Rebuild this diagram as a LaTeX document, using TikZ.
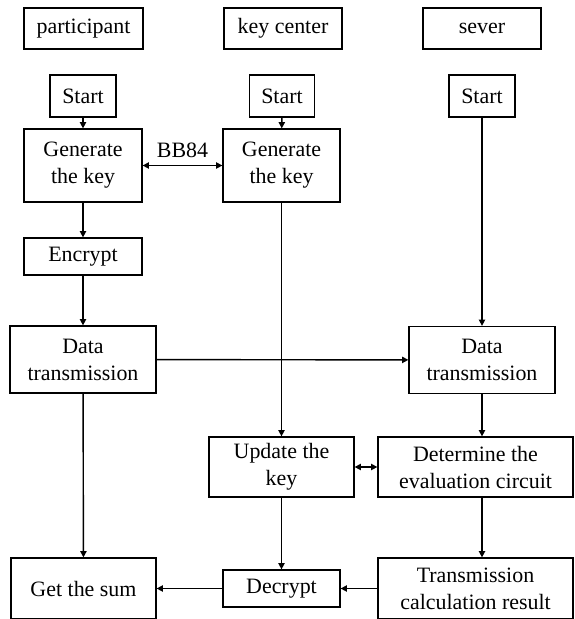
\documentclass[tikz,border=0pt]{standalone}
\usepackage{fontspec}
\setmainfont{Liberation Serif}
\usepackage{tikz}
\usetikzlibrary{arrows.meta}
\usetikzlibrary{calc}

\begin{document}
\begin{tikzpicture}[x=0.025cm,y=-0.025cm,
                    box/.style={draw,line width=0.9pt,align=center,inner sep=0pt,
                                font=\fontsize{15.6}{19.2}\selectfont},
                    flow/.style={line width=1pt,-{Triangle[length=4.5pt,width=4.5pt]}}]
                    \useasboundingbox (0,0) rectangle (574,619);
                    % column heads
                    \node[box,name=hP,minimum width=119*0.025cm,minimum height=41*0.025cm] at (83.5,28.5) {participant};
                    \node[box,name=hK,minimum width=118*0.025cm,minimum height=41*0.025cm] at (283,28.5) {key center};
                    \node[box,name=hS,minimum width=118*0.025cm,minimum height=41*0.025cm] at (482,28.5) {sever};
                    % participant
                    \node[box,name=sP,minimum width=66*0.025cm,minimum height=42*0.025cm] at (83,96) {Start};
                    \node[box,name=gP,minimum width=118*0.025cm,minimum height=73*0.025cm] at (83,165.5) {Generate\\the key};
                    \node[box,name=eP,minimum width=118*0.025cm,minimum height=37*0.025cm] at (83,256.5) {Encrypt};
                    \node[box,name=dP,minimum width=146*0.025cm,minimum height=67*0.025cm] at (83,359.5) {Data\\transmission};
                    \node[box,name=sum,minimum width=145*0.025cm,minimum height=61*0.025cm] at (83.5,588.5) {Get the sum};
                    % key center
                    \node[box,name=sK,minimum width=65*0.025cm,minimum height=42*0.025cm] at (282,96) {Start};
                    \node[box,name=gK,minimum width=117*0.025cm,minimum height=73*0.025cm] at (281.5,165.5) {Generate\\the key};
                    \node[box,name=uK,minimum width=145*0.025cm,minimum height=60*0.025cm] at (281.5,467) {Update the\\key};
                    \node[box,name=dK,minimum width=117*0.025cm,minimum height=37*0.025cm] at (281.5,588.5) {Decrypt};
                    % sever
                    \node[box,name=sS,minimum width=66*0.025cm,minimum height=42*0.025cm] at (482,96) {Start};
                    \node[box,name=dS,minimum width=146*0.025cm,minimum height=67*0.025cm] at (482,360) {Data\\transmission};
                    \node[box,name=cS,minimum width=195*0.025cm,minimum height=60*0.025cm] at (475.5,467) {Determine the\\evaluation circuit};
                    \node[box,name=tS,minimum width=195*0.025cm,minimum height=61*0.025cm] at (475.5,588.5) {Transmission\\calculation result};
                    % connectors
                    \draw[flow] (sP) -- (gP);
                    \draw[flow] (gP) -- (eP);
                    \draw[flow] (eP) -- (dP);
                    \draw[flow] (dP) -- (sum);
                    \draw[flow,{Triangle[length=4.5pt,width=4.5pt]}-{Triangle[length=4.5pt,width=4.5pt]}] (gP) -- node[above=2pt,font=\fontsize{15.6}{19.2}\selectfont,name=bb] {BB84} (gK);
                    \draw[flow] (sK) -- (gK);
                    \draw[flow] (gK) -- (uK);
                    \draw[flow] (uK) -- (dK);
                    \draw[flow] (sS) -- (dS);
                    \draw[flow] (dP) -- (dS);
                    \draw[flow] (dS.south) -- (dS.south |- cS.north);
                    \draw[flow] (dS.south |- cS.south) -- (dS.south |- tS.north);
                    \draw[flow,{Triangle[length=4.5pt,width=4.5pt]}-{Triangle[length=4.5pt,width=4.5pt]}] (uK) -- (cS);
                    \draw[flow] (tS) -- (dK);
                    \draw[flow] (dK) -- (sum);
                \end{tikzpicture}
\end{document}
